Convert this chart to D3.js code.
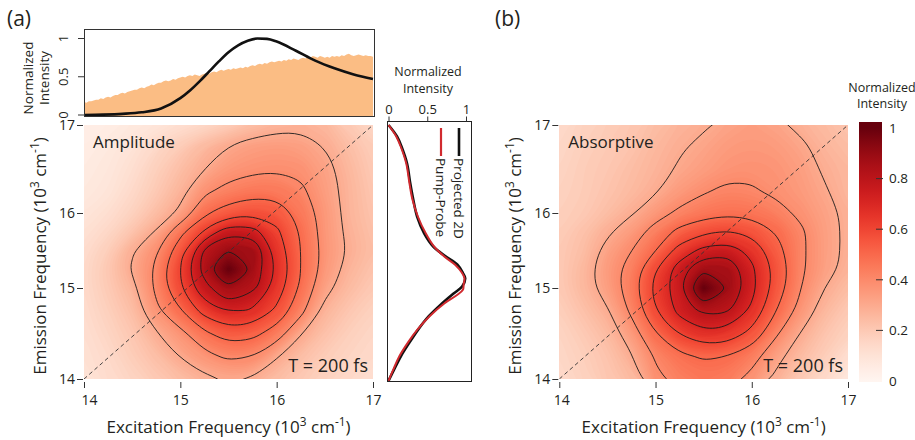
<!DOCTYPE html>
<html>
<head>
<meta charset="utf-8">
<title>2D electronic spectra, T = 200 fs</title>
<script src="https://cdn.jsdelivr.net/npm/d3@7/dist/d3.min.js"></script>
<style>
  html, body { margin: 0; padding: 0; background: #fff; }
  svg { display: block; }
  text { font-family: 'Open Sans', 'Noto Sans', sans-serif; fill: #231f20; }
</style>
</head>
<body>
<svg id="fig" width="915" height="440"></svg>
<script>
// ---------------- data ----------------
const axisTicks = [14, 15, 16, 17];
const intensityTicks = [0, 0.5, 1];
const colorbarTicks = [0, 0.2, 0.4, 0.6, 0.8, 1];
const contourLevels = [0.3, 0.4, 0.5, 0.6, 0.7, 0.8, 0.9];

// sample grid (10^3 cm^-1): columns = excitation, rows = emission (top row = 17)
const excitationGrid = [14, 14.25, 14.5, 14.75, 15, 15.25, 15.5, 15.75, 16, 16.25, 16.5, 16.75, 17];
const emissionGrid = [17, 16.75, 16.5, 16.25, 16, 15.75, 15.5, 15.25, 15, 14.75, 14.5, 14.25, 14];

const amplitudeMap = [
  [0.04,0.05,0.07,0.09,0.12,0.15,0.19,0.24,0.27,0.28,0.26,0.20,0.15],
  [0.05,0.07,0.10,0.15,0.20,0.26,0.31,0.34,0.35,0.34,0.30,0.24,0.19],
  [0.06,0.08,0.12,0.18,0.24,0.30,0.36,0.38,0.39,0.38,0.33,0.26,0.20],
  [0.07,0.09,0.14,0.20,0.27,0.38,0.43,0.46,0.46,0.42,0.34,0.27,0.21],
  [0.09,0.12,0.17,0.24,0.32,0.49,0.55,0.58,0.56,0.46,0.36,0.27,0.22],
  [0.11,0.15,0.22,0.31,0.47,0.63,0.76,0.74,0.62,0.49,0.36,0.28,0.23],
  [0.13,0.19,0.29,0.39,0.56,0.80,0.89,0.87,0.66,0.50,0.37,0.29,0.24],
  [0.14,0.21,0.31,0.42,0.62,0.83,1.00,0.87,0.68,0.51,0.36,0.27,0.22],
  [0.14,0.20,0.27,0.42,0.60,0.77,0.87,0.82,0.66,0.48,0.33,0.25,0.20],
  [0.13,0.18,0.24,0.38,0.50,0.64,0.72,0.69,0.58,0.43,0.27,0.21,0.17],
  [0.12,0.16,0.21,0.29,0.37,0.48,0.55,0.53,0.45,0.31,0.23,0.18,0.15],
  [0.11,0.14,0.19,0.24,0.31,0.37,0.42,0.41,0.31,0.24,0.19,0.16,0.14],
  [0.10,0.13,0.16,0.20,0.24,0.28,0.31,0.29,0.24,0.20,0.17,0.14,0.12]
];

const absorptiveMap = [
  [0.14,0.17,0.19,0.21,0.24,0.27,0.29,0.32,0.34,0.32,0.28,0.25,0.22],
  [0.15,0.18,0.20,0.22,0.26,0.29,0.32,0.35,0.36,0.35,0.32,0.27,0.24],
  [0.16,0.19,0.21,0.24,0.27,0.31,0.34,0.37,0.38,0.37,0.34,0.29,0.26],
  [0.17,0.19,0.22,0.25,0.29,0.35,0.39,0.42,0.41,0.38,0.35,0.31,0.26],
  [0.18,0.20,0.24,0.29,0.36,0.42,0.46,0.48,0.47,0.44,0.38,0.33,0.28],
  [0.19,0.23,0.29,0.35,0.44,0.53,0.58,0.61,0.57,0.50,0.42,0.34,0.28],
  [0.20,0.24,0.33,0.40,0.50,0.64,0.73,0.75,0.67,0.54,0.42,0.34,0.28],
  [0.20,0.26,0.35,0.44,0.60,0.75,0.87,0.86,0.72,0.57,0.42,0.34,0.27],
  [0.20,0.26,0.34,0.45,0.63,0.76,1.00,0.88,0.73,0.56,0.41,0.30,0.24],
  [0.18,0.23,0.29,0.42,0.60,0.73,0.82,0.80,0.68,0.51,0.37,0.26,0.20],
  [0.16,0.20,0.25,0.35,0.50,0.62,0.68,0.66,0.57,0.42,0.30,0.22,0.17],
  [0.15,0.18,0.22,0.29,0.41,0.48,0.51,0.50,0.44,0.33,0.25,0.19,0.12],
  [0.14,0.17,0.21,0.25,0.38,0.43,0.46,0.44,0.37,0.28,0.20,0.14,0.08]
];

// laser spectrum, sampled every 0.025 x 10^3 cm^-1 from 14
const laserStart = 14, laserStep = 0.025;
const laserSpectrum = [
  0.17,0.16,0.18,0.18,0.19,0.20,0.20,0.22,0.21,0.23,
  0.24,0.23,0.25,0.26,0.26,0.28,0.29,0.28,0.30,0.31,
  0.32,0.33,0.33,0.35,0.36,0.35,0.37,0.38,0.40,0.39,
  0.41,0.42,0.42,0.44,0.45,0.44,0.45,0.47,0.46,0.48,
  0.49,0.50,0.49,0.51,0.52,0.51,0.53,0.52,0.51,0.53,
  0.54,0.55,0.54,0.56,0.57,0.56,0.58,0.59,0.58,0.59,
  0.60,0.59,0.61,0.60,0.61,0.62,0.61,0.63,0.62,0.64,
  0.65,0.64,0.66,0.67,0.66,0.68,0.67,0.69,0.70,0.69,
  0.70,0.71,0.70,0.72,0.71,0.73,0.72,0.74,0.73,0.72,
  0.74,0.75,0.74,0.76,0.75,0.77,0.76,0.75,0.77,0.76,
  0.75,0.76,0.75,0.77,0.76,0.77,0.76,0.78,0.77,0.79,
  0.80,0.78,0.77,0.78,0.79,0.78,0.77,0.78,0.77,0.77,
  0.76
];

// linear absorption spectrum
const absorptionFreq = [14.0,14.2,14.4,14.6,14.8,15.0,15.1,15.2,15.3,15.4,15.5,15.6,15.7,15.8,15.9,16.0,16.2,16.4,16.6,16.8,17.0];
const absorptionSpectrum = [0.0,0.005,0.015,0.035,0.085,0.22,0.32,0.44,0.57,0.70,0.82,0.91,0.97,1.0,0.995,0.96,0.84,0.71,0.61,0.53,0.47];

// projections onto the emission axis
const projectedFreq = [17.0,16.87,16.75,16.56,16.34,16.15,15.95,15.73,15.55,15.42,15.31,15.2,15.13,15.02,14.94,14.83,14.69,14.54,14.4,14.25,14.1,13.98];
const projected2D = [0.0,0.11,0.17,0.24,0.28,0.32,0.37,0.46,0.58,0.74,0.89,0.96,0.99,0.95,0.84,0.69,0.52,0.38,0.27,0.16,0.07,0.0];
const pumpProbeFreq = [17.0,16.87,16.75,16.56,16.34,16.15,15.95,15.73,15.55,15.42,15.31,15.2,15.13,15.05,14.98,14.92,14.83,14.69,14.54,14.4,14.25,14.1,13.98];
const pumpProbe = [0.0,0.10,0.16,0.23,0.27,0.31,0.38,0.48,0.59,0.72,0.86,0.95,0.98,0.97,0.96,0.88,0.72,0.53,0.37,0.25,0.14,0.06,0.0];

// ---------------- scales ----------------
const svg = d3.select("#fig");
const INK = "#231f20";

const xA = d3.scaleLinear().domain([14, 17]).range([84, 373]);
const xB = d3.scaleLinear().domain([14, 17]).range([559.3, 848]);
const yEm = d3.scaleLinear().domain([14, 15, 16, 17]).range([379, 288, 213, 125]);
const color = d3.scaleSequential(d3.interpolateReds).domain([0, 1]);

const yTop = d3.scaleLinear().domain([0, 1]).range([115, 38.5]);
const xProj = d3.scaleLinear().domain([0, 1]).range([388.5, 466]);
const yBar = d3.scaleLinear().domain([0, 1]).range([381, 128]);

const defs = svg.append("defs");

// ---------------- helpers ----------------
function unitTitle(text, prefix) {
  text.append("tspan").text(prefix + " (10");
  text.append("tspan").attr("dy", -7).attr("font-size", "0.7em").text("3");
  text.append("tspan").attr("dy", 7).text(" cm");
  text.append("tspan").attr("dy", -7).attr("font-size", "0.7em").text("-1");
  text.append("tspan").attr("dy", 7).text(")");
}

function styleAxis(g) {
  g.select(".domain").remove();
  g.selectAll(".tick line").attr("stroke", "#333").attr("stroke-width", 1);
  g.selectAll(".tick text").attr("font-size", 14).attr("fill", INK);
  g.attr("font-family", null).attr("font-size", null);
}

// drop ring vertices that sit almost on top of each other, so the spline stays even
function thinRing(pts, minDist) {
  const out = [pts[0]];
  for (let i = 1; i < pts.length; i++) {
    const q = out[out.length - 1];
    if (Math.hypot(pts[i][0] - q[0], pts[i][1] - q[1]) >= minDist) out.push(pts[i]);
  }
  if (out.length > 3) {
    const a = out[0], b = out[out.length - 1];
    if (Math.hypot(a[0] - b[0], a[1] - b[1]) < minDist) out.pop();
  }
  return out.length >= 4 ? out : pts;
}

// long rings get a B-spline, short ones (around the peak) an interpolating spline
const basisRing = d3.line().curve(d3.curveBasisClosed);
const roundRing = d3.line().curve(d3.curveCatmullRomClosed.alpha(0.5));
function ringPath(pts) {
  const p = thinRing(pts, 7);
  return p.length >= 14 ? basisRing(p) : roundRing(p);
}

function mapPanel(values, x, id, label, firstTickShift) {
  const nx = excitationGrid.length, ny = emissionGrid.length;
  const flat = values.flat();
  // grid index space (sample i sits at i + 0.5) -> data units
  const gx = d3.scaleLinear().domain([0.5, nx - 0.5]).range([excitationGrid[0], excitationGrid[nx - 1]]);
  const gy = d3.scaleLinear().domain([0.5, ny - 0.5]).range([emissionGrid[0], emissionGrid[ny - 1]]);
  const toPath = geom => geom.coordinates
    .map(poly => poly.map(r => ringPath(r.slice(0, -1).map(([cx, cy]) => [x(gx(cx)), yEm(gy(cy))]))).join(""))
    .join("");

  const x0 = x(14), x1 = x(17), y0 = yEm(17), y1 = yEm(14);
  defs.append("clipPath").attr("id", id).append("rect")
    .attr("x", x0).attr("y", y0).attr("width", x1 - x0).attr("height", y1 - y0);

  const g = svg.append("g").attr("clip-path", `url(#${id})`);
  g.append("rect").attr("x", x0).attr("y", y0).attr("width", x1 - x0).attr("height", y1 - y0)
    .attr("fill", color(d3.min(flat)));

  const fillLevels = d3.range(1, 100).map(k => k / 100);
  const bands = d3.contours().size([nx, ny]).thresholds(fillLevels)(flat);
  g.append("g").selectAll("path").data(bands).join("path")
    .attr("d", toPath)
    .attr("fill", d => color(d.value + 0.005))
    .attr("fill-rule", "evenodd");

  const iso = d3.contours().size([nx, ny]).thresholds(contourLevels)(flat);
  g.append("g").selectAll("path").data(iso).join("path")
    .attr("d", toPath)
    .attr("fill", "none")
    .attr("stroke", "#1c1c1c")
    .attr("stroke-width", 0.9);

  // diagonal
  g.append("line")
    .attr("x1", x(14)).attr("y1", yEm(14)).attr("x2", x(17)).attr("y2", yEm(17))
    .attr("stroke", "#333").attr("stroke-width", 0.9).attr("stroke-dasharray", "4 3");

  // labels inside the map
  svg.append("text").attr("x", x0 + 9).attr("y", y0 + 23).attr("font-size", 17).text(label);
  svg.append("text").attr("x", x1 - 5).attr("y", y1 - 7).attr("font-size", 18)
    .attr("text-anchor", "end").text("T = 200 fs");

  // axes
  const ax = svg.append("g").attr("transform", `translate(0,${y1 + 3})`)
    .call(d3.axisBottom(x).tickValues(axisTicks).tickFormat(d3.format("d")).tickSize(6).tickSizeOuter(0).tickPadding(7));
  styleAxis(ax);
  ax.selectAll(".tick text").filter(d => d === 14).attr("dx", firstTickShift);
  const ay = svg.append("g").attr("transform", `translate(${x0 - 1},0)`)
    .call(d3.axisLeft(yEm).tickValues(axisTicks).tickFormat(d3.format("d")).tickSize(6).tickSizeOuter(0).tickPadding(2));
  styleAxis(ay);

  unitTitle(svg.append("text").attr("x", (x0 + x1) / 2).attr("y", 433)
    .attr("text-anchor", "middle").attr("font-size", 17), "Excitation Frequency");
  unitTitle(svg.append("text")
    .attr("transform", `translate(${x0 - 38},${(y0 + y1) / 2 + 4}) rotate(-90)`)
    .attr("text-anchor", "middle").attr("font-size", 17), "Emission Frequency");
}

// ---------------- panel (a) ----------------
svg.append("text").attr("x", 7).attr("y", 26).attr("font-size", 21).text("(a)");
mapPanel(amplitudeMap, xA, "clipA", "Amplitude", 5);

// spectra above the amplitude map
const topBox = { x0: 84.5, x1: 374.5, y0: 29.5, y1: 116.5 };
defs.append("clipPath").attr("id", "clipTop").append("rect")
  .attr("x", topBox.x0).attr("y", topBox.y0).attr("width", topBox.x1 - topBox.x0).attr("height", topBox.y1 - topBox.y0);
const gTop = svg.append("g").attr("clip-path", "url(#clipTop)");
gTop.append("path")
  .datum(laserSpectrum)
  .attr("fill", "#fbbd84")
  .attr("d", d3.area()
    .x((d, i) => xA(laserStart + i * laserStep))
    .y0(topBox.y1 + 1)
    .y1(d => yTop(d)));
gTop.append("path")
  .datum(absorptionFreq.map((f, i) => [f, absorptionSpectrum[i]]))
  .attr("fill", "none").attr("stroke", "#111").attr("stroke-width", 2.6)
  .attr("d", d3.line().x(d => xA(d[0])).y(d => yTop(d[1])).curve(d3.curveMonotoneX));
svg.append("rect").attr("x", topBox.x0).attr("y", topBox.y0)
  .attr("width", topBox.x1 - topBox.x0).attr("height", topBox.y1 - topBox.y0)
  .attr("fill", "none").attr("stroke", "#333").attr("stroke-width", 1);
const tickTop = svg.append("g").selectAll("g").data(intensityTicks).join("g");
tickTop.append("line").attr("x1", 78).attr("x2", 84).attr("y1", d => yTop(d)).attr("y2", d => yTop(d))
  .attr("stroke", "#333");
tickTop.append("text")
  .attr("transform", d => `translate(68,${yTop(d)}) rotate(-90)`)
  .attr("text-anchor", "middle").attr("font-size", 13)
  .text(d => d3.format("~g")(d));
svg.append("text").attr("transform", "translate(33,78) rotate(-90)")
  .attr("text-anchor", "middle").attr("font-size", 13.5).text("Normalized");
svg.append("text").attr("transform", "translate(49,78) rotate(-90)")
  .attr("text-anchor", "middle").attr("font-size", 13.5).text("Intensity");

// projections beside the amplitude map
const sideBox = { x0: 387.5, x1: 471.5, y0: 121.5, y1: 381.5 };
defs.append("clipPath").attr("id", "clipSide").append("rect")
  .attr("x", sideBox.x0).attr("y", sideBox.y0).attr("width", sideBox.x1 - sideBox.x0).attr("height", sideBox.y1 - sideBox.y0);
const gSide = svg.append("g").attr("clip-path", "url(#clipSide)");
const projLine = d3.line().x(d => xProj(d[1])).y(d => yEm(d[0])).curve(d3.curveCatmullRom);
gSide.append("path")
  .datum(projectedFreq.map((f, i) => [f, projected2D[i]]))
  .attr("fill", "none").attr("stroke", "#111").attr("stroke-width", 2.6).attr("d", projLine);
gSide.append("path")
  .datum(pumpProbeFreq.map((f, i) => [f, pumpProbe[i]]))
  .attr("fill", "none").attr("stroke", "#d12a2f").attr("stroke-width", 2).attr("d", projLine);
svg.append("rect").attr("x", sideBox.x0).attr("y", sideBox.y0)
  .attr("width", sideBox.x1 - sideBox.x0).attr("height", sideBox.y1 - sideBox.y0)
  .attr("fill", "none").attr("stroke", "#222").attr("stroke-width", 1);
const axSide = svg.append("g").attr("transform", `translate(0,${sideBox.y0})`)
  .call(d3.axisTop(xProj).tickValues(intensityTicks).tickFormat(d3.format("~g")).tickSize(5).tickSizeOuter(0).tickPadding(3));
styleAxis(axSide);
axSide.selectAll(".tick text").attr("font-size", 13);
svg.append("text").attr("x", 428).attr("y", 76).attr("text-anchor", "middle").attr("font-size", 12.5).text("Normalized");
svg.append("text").attr("x", 428).attr("y", 93).attr("text-anchor", "middle").attr("font-size", 12.5).text("Intensity");

// rotated legend
const legendItems = [
  { name: "Projected 2D", stroke: "#111", width: 2.6, x: 459 },
  { name: "Pump-Probe", stroke: "#d12a2f", width: 2.2, x: 441 }
];
const leg = svg.append("g").selectAll("g").data(legendItems).join("g")
  .attr("transform", d => `translate(${d.x},128) rotate(90)`);
leg.append("line").attr("x1", 0).attr("x2", 28).attr("y1", 0).attr("y2", 0)
  .attr("stroke", d => d.stroke).attr("stroke-width", d => d.width);
leg.append("text").attr("x", 30).attr("y", 0).attr("dy", "0.35em").attr("font-size", 13.5)
  .text(d => d.name);

// ---------------- panel (b) ----------------
svg.append("text").attr("x", 495).attr("y", 26).attr("font-size", 21).text("(b)");
mapPanel(absorptiveMap, xB, "clipB", "Absorptive", 2);

// colour bar
const bar = { x0: 859, x1: 882, y0: 122, y1: 382 };
const grad = defs.append("linearGradient").attr("id", "barGrad")
  .attr("gradientUnits", "userSpaceOnUse")
  .attr("x1", 0).attr("x2", 0).attr("y1", yBar(0)).attr("y2", yBar(1));
grad.selectAll("stop").data(d3.range(0, 21).map(k => k / 20)).join("stop")
  .attr("offset", d => d).attr("stop-color", d => color(d));
svg.append("rect").attr("x", bar.x0).attr("y", bar.y0)
  .attr("width", bar.x1 - bar.x0).attr("height", bar.y1 - bar.y0).attr("fill", "url(#barGrad)");
const cbt = svg.append("g").selectAll("g").data(colorbarTicks).join("g");
cbt.filter(d => d > 0 && d < 1).append("line")
  .attr("x1", 876).attr("x2", 883).attr("y1", d => yBar(d)).attr("y2", d => yBar(d))
  .attr("stroke", "#333");
cbt.append("text").attr("x", 889).attr("y", d => yBar(d)).attr("dy", "0.35em")
  .attr("font-size", 13.5).text(d => d3.format("~g")(d));
svg.append("text").attr("x", 882).attr("y", 92).attr("text-anchor", "middle").attr("font-size", 12.5).text("Normalized");
svg.append("text").attr("x", 882).attr("y", 108).attr("text-anchor", "middle").attr("font-size", 12.5).text("Intensity");
</script>
</body>
</html>
